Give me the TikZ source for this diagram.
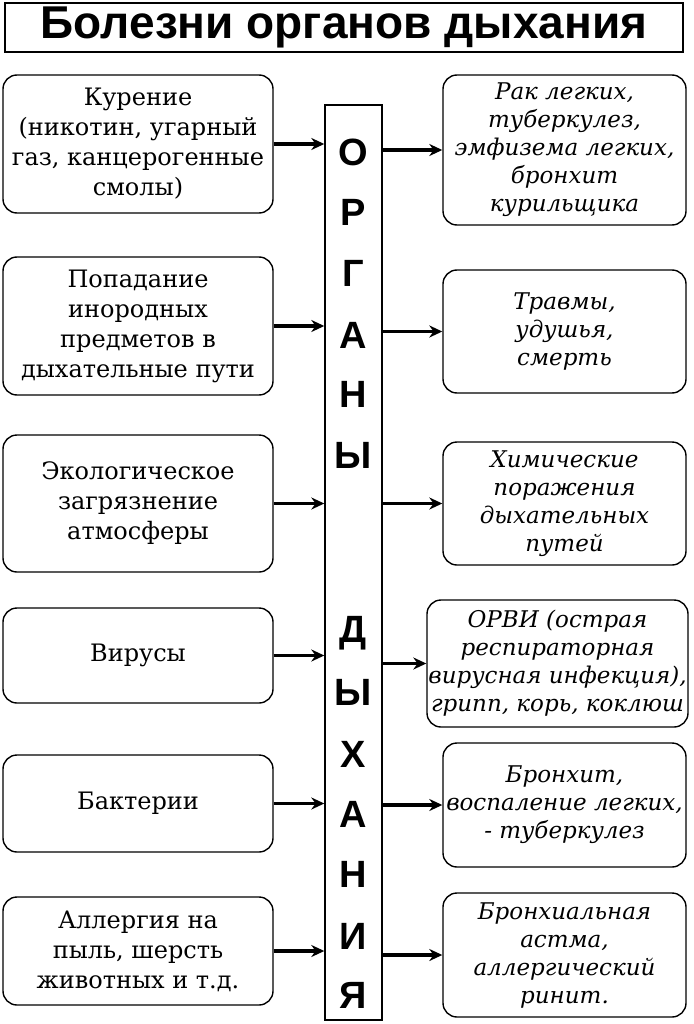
\documentclass[tikz,border=0pt]{standalone}
\usepackage{fontspec}
\setmainfont{DejaVu Serif}
\newfontfamily\headfont{Liberation Sans}
\usetikzlibrary{
        arrows.meta,
        positioning
    }

\begin{document}
\begin{tikzpicture}
[x=1pt, y=-1pt,
baseshape/.style={draw=black, line width=1.4pt, align=center, inner sep=0pt},
cause/.style={baseshape, rounded corners=14pt, minimum width=270pt, font=\fontsize{24}{30}\selectfont},
effect/.style={baseshape, rounded corners=14pt, minimum width=243pt, font=\fontsize{23}{28}\selectfont\itshape},
letter/.style={font=\headfont\bfseries\fontsize{38}{38}\selectfont},
arrow/.style={line width=3.6pt, -{Stealth[length=13pt, width=12pt]}}]

    \useasboundingbox (0,0) rectangle (693,1024);

    \node (title) [baseshape, minimum width=678pt, minimum height=49pt, font=\headfont\bfseries\fontsize{46}{46}\selectfont] at (344,27.5) {Болезни органов дыхания};
    \node (organs) [baseshape, minimum width=57pt, minimum height=915pt] at (353.5,562.5) {};

    % causes on the left
    \node (cause1) [cause, minimum height=138pt] at (138,144) {Курение\\(никотин, угарный\\газ, канцерогенные\\смолы)};
    \node (cause2) [cause, minimum height=138pt] at (138,326) {Попадание\\инородных\\предметов в\\дыхательные пути};
    \node (cause3) [cause, minimum height=137pt] at (138,503.5) {Экологическое\\загрязнение\\атмосферы};
    \node (cause4) [cause, minimum height=95pt] at (138,655.5) {Вирусы};
    \node (cause5) [cause, minimum height=97pt] at (138,803.5) {Бактерии};
    \node (cause6) [cause, minimum height=108pt] at (138,951) {Аллергия на\\пыль, шерсть\\животных и т.д.};

    % diseases on the right
    \node (effect1) [effect, minimum height=150pt] at (564.5,150) {Рак легких,\\туберкулез,\\эмфизема легких,\\бронхит\\курильщика};
    \node (effect2) [effect, minimum height=123pt] at (564.5,331.5) {Травмы,\\удушья,\\смерть};
    \node (effect3) [effect, minimum height=123pt] at (564.5,503.5) {Химические\\поражения\\дыхательных\\путей};
    \node (effect4) [effect, minimum height=127pt, minimum width=261pt] at (557.5,663.5) {ОРВИ (острая\\респираторная\\вирусная инфекция),\\грипп, корь, коклюш};
    \node (effect5) [effect, minimum height=124pt] at (564.5,805) {Бронхит,\\воспаление легких,\\- туберкулез};
    \node (effect6) [effect, minimum height=124pt] at (564.5,955) {Бронхиальная\\астма,\\аллергический\\ринит.};

    \foreach \ch/\yy [count=\i] in {О/152, Р/212, Г/273, А/335, Н/394, Ы/455, Д/633, Ы/692, Х/754, А/814, Н/874, И/936, Я/995}
        \node (ltr\i) [letter] at (353.5,\yy) {\ch};

    \foreach \i in {1,...,6}
    {
        \draw[arrow] (cause\i.east) -- (cause\i.east -| organs.west);
        \draw[arrow] (organs.east |- effect\i.west) -- (effect\i.west);
    }
\end{tikzpicture}
\end{document}
